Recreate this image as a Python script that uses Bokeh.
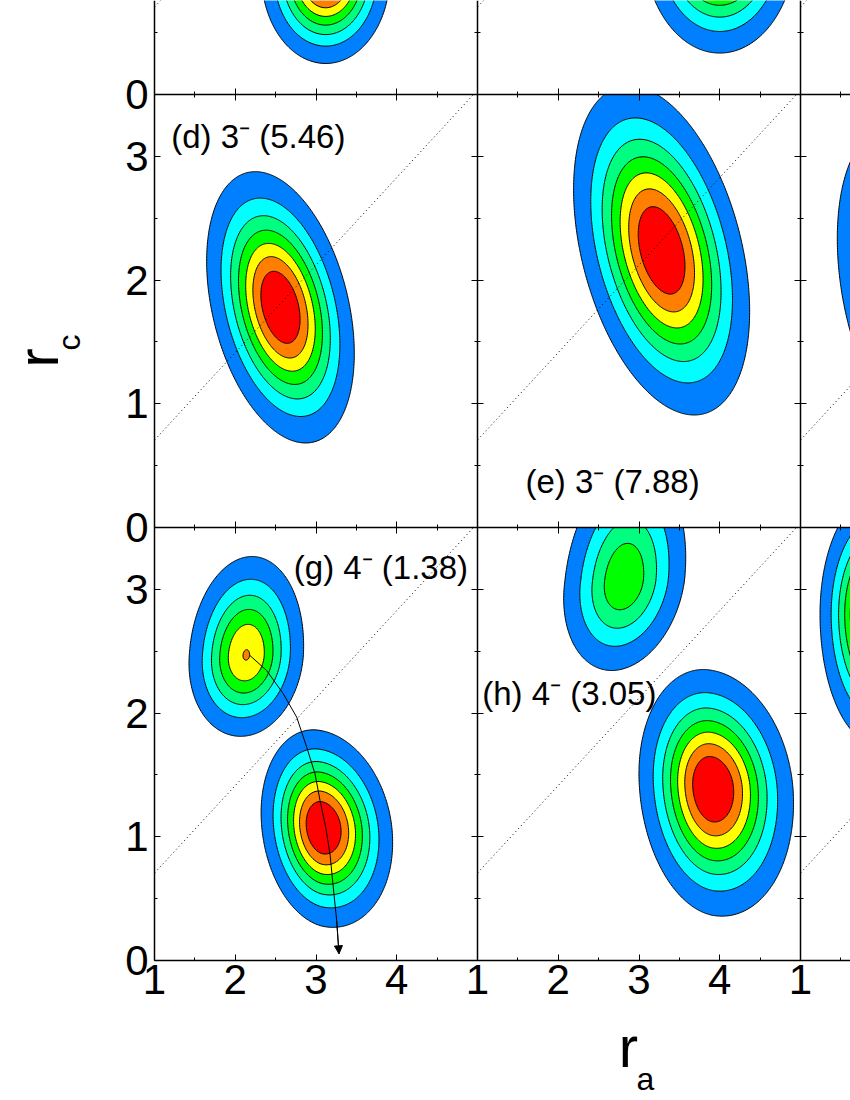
import numpy as np
from bokeh.plotting import figure
from bokeh.models import Range1d, LinearAxis, FixedTicker, Arrow, NormalHead
from bokeh.core.properties import value
from bokeh.embed import file_html
from bokeh.resources import INLINE

# ---------------- data ----------------
levels = [0.1, 0.225, 0.35, 0.475, 0.6, 0.725, 0.85, 2.0]
band_colors = ["#0080FF", "#00FFFF", "#00FF80", "#00FF00", "#FFFF00", "#FF8000", "#FF0000"]

panel_names = ["a", "b", "c", "d", "e", "f", "g", "h", "i"]
panel_col = [0, 1, 2, 0, 1, 2, 0, 1, 2]
panel_row = [0, 0, 0, 1, 1, 1, 2, 2, 2]   # 0 = top row

# density peaks (r_a, r_c) of each panel
blob_panel = ["a", "b", "d", "e", "f", "g", "g", "h", "h", "i"]
blob_amp = [1.0, 1.0, 1.0, 1.0, 1.0, 0.73, 1.0, 0.57, 1.0, 1.0]
blob_cx = [3.12, 4.00, 2.56, 3.28, 2.40, 2.137, 3.08, 2.81, 3.905, 1.95]
blob_cy = [0.97, 1.23, 1.78, 2.24, 1.95, 2.466, 1.075, 3.07, 1.395, 2.80]
blob_sx_left = [0.37, 0.44, 0.426, 0.508, 0.44, 0.356, 0.354, 0.398, 0.422, 0.33]
blob_sx_right = [0.37, 0.44, 0.426, 0.508, 0.44, 0.356, 0.405, 0.412, 0.470, 0.33]
blob_sy_down = [0.335, 0.417, 0.511, 0.62, 0.60, 0.328, 0.376, 0.389, 0.483, 0.49]
blob_sy_up = [0.40, 0.45, 0.511, 0.62, 0.60, 0.401, 0.368, 0.50, 0.446, 0.45]
blob_rho = [0.0, 0.0, -0.34, -0.37, -0.30, 0.10, -0.15, 0.20, -0.12, 0.0]

label_panel = ["d", "e", "g", "h"]
label_text = ["(d) 3\u207b (5.46)", "(e) 3\u207b (7.88)", "(g) 4\u207b (1.38)", "(h) 4\u207b (3.05)"]
label_x = [1.207, 1.594, 2.725, 1.058]
label_y = [3.16, 0.372, 3.177, 2.162]

# arrow path in panel (g)
arrow_x = [2.183, 2.389, 2.595, 2.761, 2.885, 2.988, 3.05, 3.12, 3.173, 3.214, 3.256, 3.285]
arrow_y = [2.465, 2.344, 2.156, 1.967, 1.724, 1.509, 1.293, 1.078, 0.862, 0.593, 0.323, 0.054]

diag_x = [1.0, 4.95]
diag_slope = 0.7071

x_tick_values = [1, 2, 3, 4]
y_tick_values = [0, 1, 2, 3]

# axis titles: main letter and subscript
title_y_text = ["r", "c"]
title_x_text = ["r", "a"]

# ---------------- geometry ----------------
W, H = 850, 1100
LEFT, BOTTOM = 154.0, 960.0   # page pixel of r_a=1 (first column) and r_c=0 (bottom row)
PX_X = 80.75                  # pixels per r_a unit
PX_Y = 123.71                 # pixels per r_c unit
COL_W = 4.0                   # r_a span of one panel
ROW_H = 3.5                   # r_c span of one panel
XMIN = 1 - LEFT / PX_X
XMAX = 1 + (W - LEFT) / PX_X
YMIN = -(H - BOTTOM) / PX_Y
YMAX = BOTTOM / PX_Y

p = figure(frame_width=W, frame_height=H,
           x_range=Range1d(XMIN, XMAX), y_range=Range1d(YMIN, YMAX),
           x_axis_type=None, y_axis_type=None,
           output_backend="svg", toolbar_location=None,
           min_border=0, min_border_left=0, min_border_right=0, min_border_top=0, min_border_bottom=0,
           background_fill_color="white", border_fill_color="white", outline_line_color=None)

for c in range(3):
    p.extra_x_ranges[f"c{c}"] = Range1d(XMIN - COL_W * c, XMAX - COL_W * c)
for r in range(3):
    off = (2 - r) * ROW_H
    p.extra_y_ranges[f"r{r}"] = Range1d(YMIN - off, YMAX - off)

gx = np.linspace(1, 5, 321)
gy = np.linspace(0, 3.5, 281)
X, Y = np.meshgrid(gx, gy)

for name, c, r in zip(panel_names, panel_col, panel_row):
    xr, yr = f"c{c}", f"r{r}"
    idx = [i for i, b in enumerate(blob_panel) if b == name]
    if idx:
        Z = np.zeros_like(X)
        for i in idx:
            dx = X - blob_cx[i]
            dy = Y - blob_cy[i]
            sx = np.where(dx < 0, blob_sx_left[i], blob_sx_right[i])
            sy = np.where(dy < 0, blob_sy_down[i], blob_sy_up[i])
            u, v, rho = dx / sx, dy / sy, blob_rho[i]
            q = (u * u - 2 * rho * u * v + v * v) / (1 - rho * rho)
            Z = np.maximum(Z, blob_amp[i] * np.exp(-0.5 * q))
        cr = p.contour(x=gx, y=gy, z=Z, levels=levels, fill_color=band_colors,
                       line_color="black", line_width=1)
        for rr in (cr, cr.fill_renderer, cr.line_renderer):
            rr.x_range_name = xr
            rr.y_range_name = yr
    p.line(diag_x, [diag_slope * x for x in diag_x], line_dash="1 3", line_color="black",
           line_width=1, x_range_name=xr, y_range_name=yr)
    for lp, lt, lx, ly in zip(label_panel, label_text, label_x, label_y):
        if lp == name:
            p.text(x=[lx], y=[ly], text=[lt], text_font=value("Liberation Sans"),
                   text_font_size="33px", text_baseline="middle", text_align="left",
                   text_color="black", x_range_name=xr, y_range_name=yr)

# arrow in panel g
p.line(arrow_x, arrow_y, line_color="black", line_width=1, x_range_name="c0", y_range_name="r2")
p.add_layout(Arrow(end=NormalHead(size=8, fill_color="black", line_color="black", line_width=1),
                   x_start=arrow_x[-2], y_start=arrow_y[-2], x_end=arrow_x[-1], y_end=arrow_y[-1],
                   line_color="black", line_width=1, x_range_name="c0", y_range_name="r2"))

# ---------------- axes ----------------
gxt = [t + COL_W * c for c in range(3) for t in x_tick_values] + [1 + COL_W * 3]
gxt = [t for t in gxt if t <= XMAX]
gxm = [t + 0.5 for t in gxt]
x_over = {t: str(int(round((t - 1) % COL_W + 1))) for t in gxt}

gyt = [t + ROW_H * k for k in range(3) for t in y_tick_values]
gyt = [t for t in gyt if t <= YMAX]
gym = [t + 0.5 for t in gyt]
y_over = {t: str(int(round(t - ROW_H * int(t // ROW_H + 1e-9)))) for t in gyt}

font = "Liberation Sans"
common = dict(axis_line_color="black", axis_line_width=1.5,
              major_tick_line_color="black", major_tick_line_width=1,
              minor_tick_line_color="black", minor_tick_line_width=1,
              major_label_text_font=font, major_label_text_font_size="42px",
              major_label_text_color="black", axis_label=None)

bottom = LinearAxis(ticker=FixedTicker(ticks=gxt, minor_ticks=gxm), major_label_overrides=x_over,
                    fixed_location=0, bounds=(1, XMAX),
                    major_tick_in=6, major_tick_out=0, minor_tick_in=3, minor_tick_out=0,
                    major_label_standoff=4, **common)
p.add_layout(bottom, "below")
left = LinearAxis(ticker=FixedTicker(ticks=gyt, minor_ticks=gym), major_label_overrides=y_over,
                  fixed_location=1, bounds=(0, YMAX),
                  major_tick_in=6, major_tick_out=0, minor_tick_in=3, minor_tick_out=0,
                  major_label_standoff=6, **common)
p.add_layout(left, "left")

inner = dict(common)
inner["major_label_text_color"] = None
for loc in (ROW_H, 2 * ROW_H):
    p.add_layout(LinearAxis(ticker=FixedTicker(ticks=gxt, minor_ticks=gxm), fixed_location=loc,
                            bounds=(1, XMAX),
                            major_tick_in=6, major_tick_out=6, minor_tick_in=3, minor_tick_out=3,
                            **inner), "below")
for loc in (1 + COL_W, 1 + 2 * COL_W):
    p.add_layout(LinearAxis(ticker=FixedTicker(ticks=gyt, minor_ticks=gym), fixed_location=loc,
                            bounds=(0, YMAX),
                            major_tick_in=6, major_tick_out=6, minor_tick_in=3, minor_tick_out=3,
                            **inner), "left")

# axis titles r_c (rotated) and r_a, as text in global coordinates
p.text(x=[-0.445], y=[4.793], text=[title_y_text[0]], angle=np.pi / 2, text_align="left",
       text_baseline="alphabetic", text_font=value(font), text_font_size="58px", text_color="black")
p.text(x=[-0.06], y=[4.931], text=[title_y_text[1]], angle=np.pi / 2, text_align="left",
       text_baseline="alphabetic", text_font=value(font), text_font_size="32px", text_color="black")
p.text(x=[6.75], y=[-0.695], text=[title_x_text[0]], text_align="left",
       text_baseline="alphabetic", text_font=value(font), text_font_size="58px", text_color="black")
p.text(x=[6.969], y=[-0.958], text=[title_x_text[1]], text_align="left",
       text_baseline="alphabetic", text_font=value(font), text_font_size="32px", text_color="black")

open("out.html", "w").write(file_html(p, INLINE))
